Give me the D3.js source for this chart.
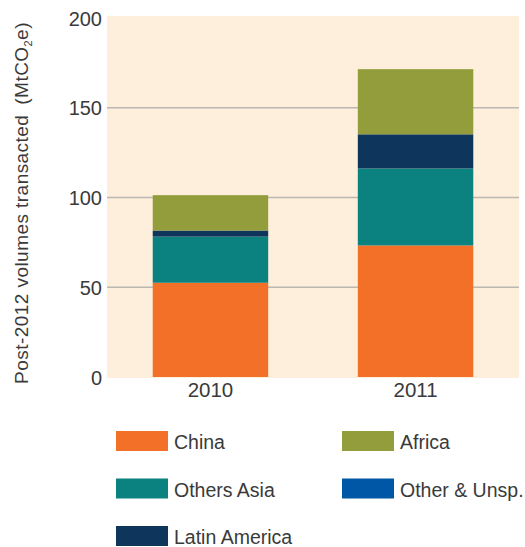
<!DOCTYPE html>
<html>
<head>
<meta charset="utf-8">
<title>Post-2012 volumes</title>
<style type="text/css">
    body { margin: 0; background: #fff; }
    text { font-family: "Liberation Sans", Arial, sans-serif; fill: #3a3a3a; }
    .grid line { stroke: #bcb8b1; stroke-width: 1.5px; }
</style>
</head>
<body>
<svg class="chart" width="525" height="547"></svg>
<script src="https://cdn.jsdelivr.net/npm/d3@7"></script>
<script type="text/javascript">
var years = ['2010', '2011'];
var regions = ['China', 'Others Asia', 'Latin America', 'Other & Unsp.', 'Africa'];
var china = [52.5, 73.3];
var othersAsia = [25.7, 42.9];
var latinAmerica = [3.4, 19];
var otherUnsp = [0, 0];
var africa = [19.7, 36.3];
var yTicks = [0, 50, 100, 150, 200];
var colors = ['#f37029', '#0c8280', '#0e365c', '#0057a6', '#939d3c'];
// legend order as in the picture: two columns
var legendOrder = ['China', 'Africa', 'Others Asia', 'Other & Unsp.', 'Latin America'];

var series = [china, othersAsia, latinAmerica, otherUnsp, africa];
var rows = years.map(function(y, i) {
    var r = {year: y};
    regions.forEach(function(k, j) { r[k] = series[j][i]; });
    return r;
});

var svg = d3.select('.chart');
var x = d3.scaleBand().domain(years).range([107, 519]).paddingInner(0.437).paddingOuter(0.223);
var y = d3.scaleLinear().domain([0, 200]).range([377, 18]);
var color = d3.scaleOrdinal().domain(regions).range(colors);

svg.append('rect')
    .attr('x', 107).attr('y', y(200) - 2)
    .attr('width', 412).attr('height', y(0) - y(200) + 3)
    .attr('fill', '#fdefdc');

svg.append('g')
    .attr('class', 'grid')
    .selectAll('line')
    .data(yTicks.filter(function(d) { return d > 0 && d < 200; }))
    .enter()
    .append('line')
    .attr('x1', 107).attr('x2', 519)
    .attr('y1', function(d) { return y(d); })
    .attr('y2', function(d) { return y(d); });

var stack = d3.stack().keys(regions)(rows);
svg.append('g')
    .selectAll('g')
    .data(stack)
    .enter()
    .append('g')
    .attr('fill', function(d) { return color(d.key); })
    .selectAll('rect')
    .data(function(d) { return d; })
    .enter()
    .append('rect')
    .attr('x', function(d) { return x(d.data.year); })
    .attr('width', x.bandwidth())
    .attr('y', function(d) { return y(d[1]); })
    .attr('height', function(d) { return y(d[0]) - y(d[1]); });

var yAxis = svg.append('g')
    .attr('transform', 'translate(102,0)')
    .call(d3.axisLeft(y).tickValues(yTicks).tickSize(0).tickPadding(0));
yAxis.select('.domain').remove();
yAxis.selectAll('text')
    .attr('font-size', 20)
    .attr('dy', '0.36em')
    .style('font-family', '"Liberation Sans", Arial, sans-serif')
    .attr('fill', '#3a3a3a');

var xAxis = svg.append('g')
    .attr('transform', 'translate(0,' + y(0) + ')')
    .call(d3.axisBottom(x).tickSize(0).tickPadding(0));
xAxis.select('.domain').remove();
xAxis.selectAll('text')
    .attr('font-size', 20.5)
    .attr('dy', '0')
    .attr('y', 20)
    .style('font-family', '"Liberation Sans", Arial, sans-serif')
    .attr('fill', '#3a3a3a');

var label = svg.append('text')
    .attr('transform', 'translate(28,203) rotate(-90)')
    .attr('text-anchor', 'middle')
    .attr('font-size', 19)
    .attr('letter-spacing', 0.45);
label.append('tspan').text('Post-2012 volumes transacted');
label.append('tspan').attr('dx', 10).text('(MtCO');
label.append('tspan').attr('font-size', 11).attr('dy', 4).text('2');
label.append('tspan').attr('dy', -4).text('e)');

var legend = svg.append('g')
    .selectAll('g')
    .data(legendOrder)
    .enter()
    .append('g')
    .attr('transform', function(d, i) {
        return 'translate(' + (i % 2 ? 342 : 116) + ',' + (431 + Math.floor(i / 2) * 47.5) + ')';
    });
legend.append('rect')
    .attr('width', 52).attr('height', 20)
    .attr('fill', function(d) { return color(d); });
legend.append('text')
    .attr('x', 58).attr('y', 18)
    .attr('font-size', 19.5)
    .text(function(d) { return d; });
</script>
</body>
</html>
